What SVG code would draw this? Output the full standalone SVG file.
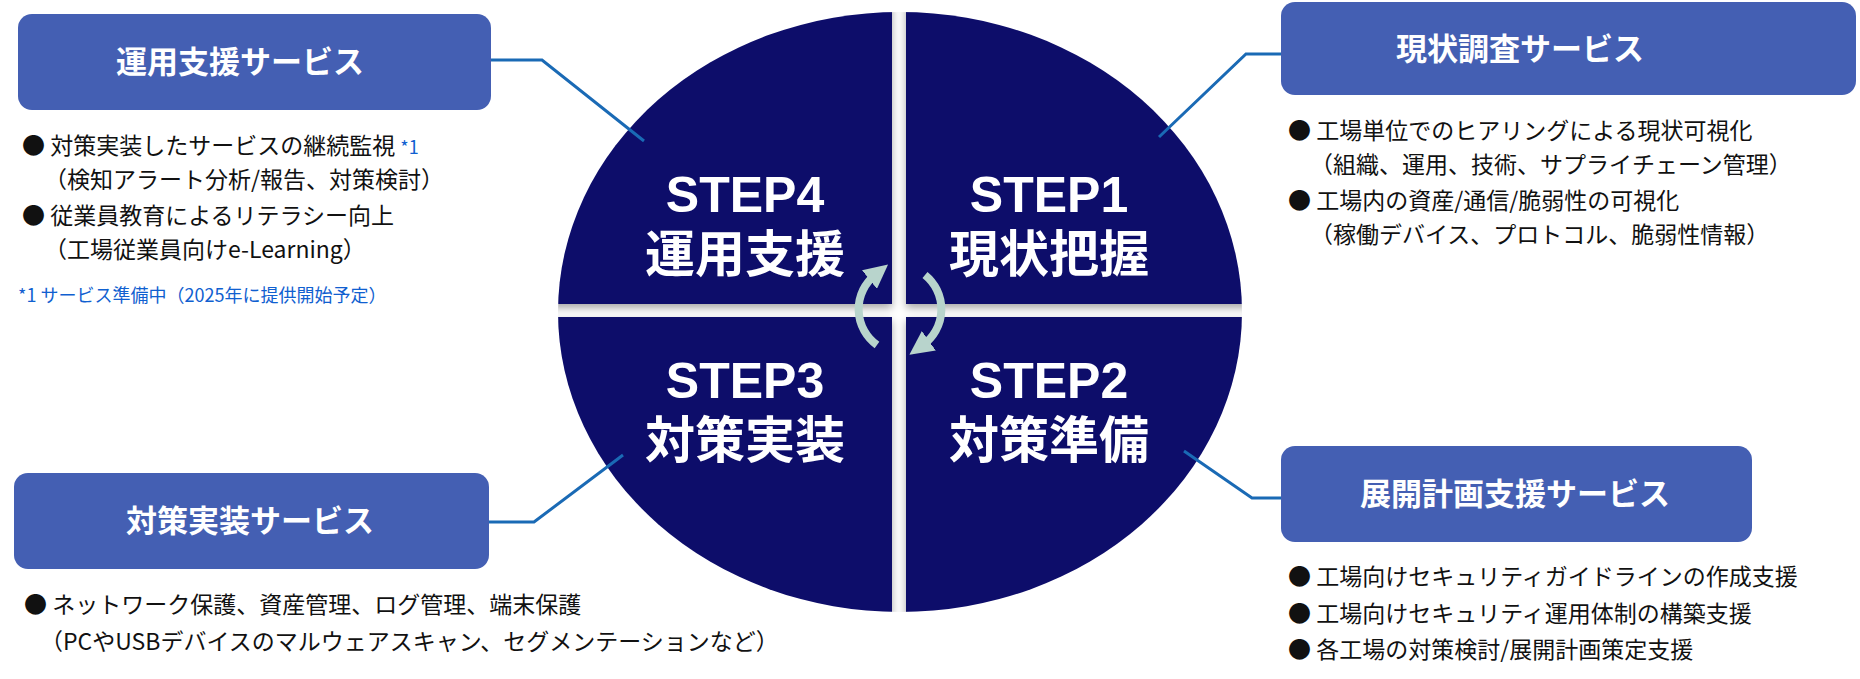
<svg xmlns="http://www.w3.org/2000/svg" width="1860" height="679" viewBox="0 0 1860 679">
<defs>
<style>
.box{fill:#445fb3}
.bt{font-family:"Noto Sans CJK JP","Liberation Sans",sans-serif;font-weight:bold;font-size:31px;fill:#fff;text-anchor:middle}
.q{fill:#0a0a6b}
.st{font-family:"Liberation Sans","Noto Sans CJK JP",sans-serif;font-weight:bold;font-size:50px;fill:#fff;text-anchor:middle}
.li{font-family:"Noto Sans CJK JP","Liberation Sans",sans-serif;font-size:23px;fill:#111}
.fn{font-family:"Noto Sans CJK JP","Liberation Sans",sans-serif;font-size:18px;fill:#1060d0}
.con{fill:none;stroke:#1a6ab5;stroke-width:3}
.cyc{fill:none;stroke:#b8d4cc;stroke-width:8}
</style>
<clipPath id="ell"><ellipse cx="900" cy="312" rx="342" ry="300"/></clipPath>
<marker id="ah" viewBox="0 0 10 10" refX="3" refY="5" markerWidth="3" markerHeight="3" orient="auto"><path d="M0,0L10,5L0,10z" fill="#b8d4cc"/></marker>
<filter id="sh" x="-10%" y="-10%" width="120%" height="120%"><feDropShadow dx="0" dy="4" stdDeviation="4" flood-color="#000" flood-opacity="0.35"/></filter>
</defs>
<rect width="1860" height="679" fill="#fff"/>
<g id="circle" clip-path="url(#ell)" filter="url(#sh)">
<rect class="q" x="540" y="0" width="352" height="304"/>
<rect class="q" x="906" y="0" width="352" height="304"/>
<rect class="q" x="540" y="317" width="352" height="320"/>
<rect class="q" x="906" y="317" width="352" height="320"/>
</g>
<g id="step4"><text class="st" x="745" y="212">STEP4</text><text class="st" x="745" y="272">運用支援</text></g>
<g id="step1"><text class="st" x="1049" y="212">STEP1</text><text class="st" x="1049" y="272">現状把握</text></g>
<g id="step3"><text class="st" x="745" y="398">STEP3</text><text class="st" x="745" y="458">対策実装</text></g>
<g id="step2"><text class="st" x="1049" y="398">STEP2</text><text class="st" x="1049" y="458">対策準備</text></g>
<g id="cycle">
<path class="cyc" d="M877,345 A44,44 0 0 1 875,275" marker-end="url(#ah)"/>
<path class="cyc" d="M925,275 A44,44 0 0 1 923,345" marker-end="url(#ah)"/>
</g>
<g id="connectors">
<polyline class="con" points="477,60 542,60 644,141"/>
<polyline class="con" points="1311,54 1246,54 1159,137"/>
<polyline class="con" points="471,522 534,522 623,455"/>
<polyline class="con" points="1290,498 1252,498 1184,451"/>
</g>
<g id="n-unyo"><rect class="box" x="18" y="14" width="473" height="96" rx="14"/><text class="bt" x="240" y="73">運用支援サービス</text></g>
<g id="n-genjo"><rect class="box" x="1281" y="2" width="575" height="93" rx="14"/><text class="bt" x="1520" y="60">現状調査サービス</text></g>
<g id="n-taisaku"><rect class="box" x="14" y="473" width="475" height="96" rx="14"/><text class="bt" x="250" y="532">対策実装サービス</text></g>
<g id="n-tenkai"><rect class="box" x="1281" y="446" width="471" height="96" rx="14"/><text class="bt" x="1515" y="505">展開計画支援サービス</text></g>
<g id="t-unyo">
<text class="li" x="22" y="154">● 対策実装したサービスの継続監視 <tspan class="fn">*1</tspan></text>
<text class="li" x="44" y="188">（検知アラート分析/報告、対策検討）</text>
<text class="li" x="22" y="224">● 従業員教育によるリテラシー向上</text>
<text class="li" x="44" y="258">（工場従業員向けe-Learning）</text>
<text class="fn" x="18" y="302">*1 サービス準備中（2025年に提供開始予定）</text>
</g>
<g id="t-genjo">
<text class="li" x="1288" y="139">● 工場単位でのヒアリングによる現状可視化</text>
<text class="li" x="1310" y="173">（組織、運用、技術、サプライチェーン管理）</text>
<text class="li" x="1288" y="209">● 工場内の資産/通信/脆弱性の可視化</text>
<text class="li" x="1310" y="243">（稼働デバイス、プロトコル、脆弱性情報）</text>
</g>
<g id="t-taisaku">
<text class="li" x="24" y="613">● ネットワーク保護、資産管理、ログ管理、端末保護</text>
<text class="li" x="40" y="650">（PCやUSBデバイスのマルウェアスキャン、セグメンテーションなど）</text>
</g>
<g id="t-tenkai">
<text class="li" x="1288" y="585">● 工場向けセキュリティガイドラインの作成支援</text>
<text class="li" x="1288" y="622">● 工場向けセキュリティ運用体制の構築支援</text>
<text class="li" x="1288" y="658">● 各工場の対策検討/展開計画策定支援</text>
</g>
</svg>
